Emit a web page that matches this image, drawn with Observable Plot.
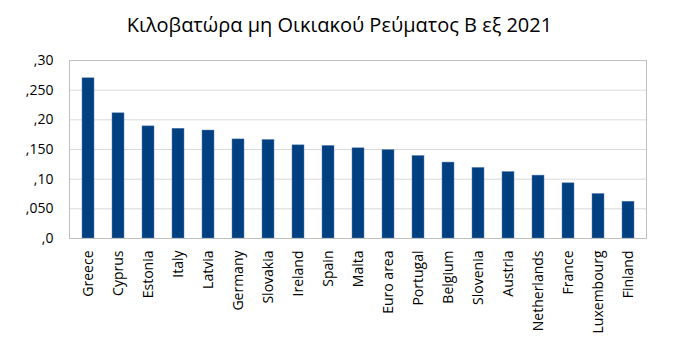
<!DOCTYPE html>
<html>
<head>
<meta charset="utf-8">
<script src="https://cdn.jsdelivr.net/npm/d3@7"></script>
<script src="https://cdn.jsdelivr.net/npm/@observablehq/plot@0.6"></script>
<style>
  html, body { margin: 0; padding: 0; background: #fff; }
  #title { height: 45px; line-height: 45px; text-align: center; font-family: "Open Sans", sans-serif; font-size: 20px; color: #000; padding-top: 2px; box-sizing: border-box; }
  #chart svg { display: block; }
</style>
</head>
<body>
<div id="title">Κιλοβατώρα μη Οικιακού Ρεύματος Β εξ 2021</div>
<div id="chart"></div>
<script>
const countries = ["Greece","Cyprus","Estonia","Italy","Latvia","Germany","Slovakia","Ireland","Spain","Malta","Euro area","Portugal","Belgium","Slovenia","Austria","Netherlands","France","Luxembourg","Finland"];
const prices = [0.270,0.211,0.189,0.185,0.182,0.167,0.166,0.157,0.156,0.152,0.149,0.139,0.128,0.119,0.112,0.106,0.093,0.075,0.062];
const yTicks = [0,0.05,0.10,0.15,0.20,0.25,0.30];
const yTickLabels = [",0",",050",",10",",150",",20",",250",",30"];

const data = countries.map((c, i) => ({country: c, value: prices[i]}));

const chart = Plot.plot({
  width: 679,
  height: 310,
  marginTop: 15,
  marginBottom: 117,
  marginLeft: 69,
  marginRight: 33,
  style: {fontFamily: "Open Sans, sans-serif", fontSize: "13px", color: "#000", background: "#fff"},
  x: {domain: countries, paddingInner: 0.6, paddingOuter: 0.3, label: null},
  y: {domain: [0, 0.30], label: null},
  marks: [
    Plot.gridY(yTicks, {stroke: "#D9D9D9", strokeOpacity: 1, strokeWidth: 1}),
    Plot.barY(data, {x: "country", y: "value", fill: "#003F80", stroke: "#5B80B0", strokeWidth: 0.5}),
    Plot.frame({stroke: "#BFBFBF", strokeWidth: 1}),
    Plot.axisY(yTicks, {tickSize: 0, tickPadding: 16, tickFormat: (d, i) => yTickLabels[i], fontSize: 14}),
    Plot.axisX({tickSize: 0, tickPadding: 12, tickRotate: -90, fontSize: 14})
  ]
});
document.getElementById("chart").appendChild(chart);
</script>
</body>
</html>
